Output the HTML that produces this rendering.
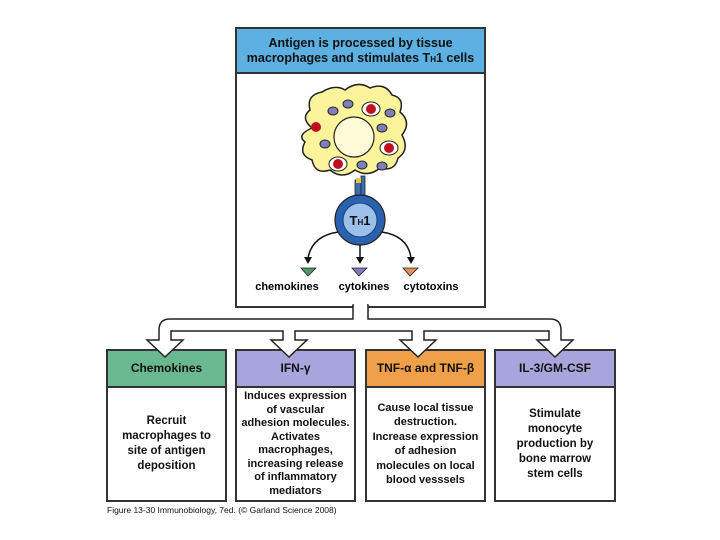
<!DOCTYPE html>
<html><head><style>
body{margin:0;width:720px;height:540px;background:#fff;position:relative;overflow:hidden;font-family:"Liberation Sans",sans-serif;font-weight:bold;color:#111}
.box{position:absolute;border:2px solid #333;background:#fff;box-sizing:border-box}
.hd{border-bottom:2px solid #333;text-align:center;font-size:12px;box-sizing:border-box}
.bd{text-align:center;font-size:11.5px;line-height:14px;display:flex;align-items:center;justify-content:center;box-sizing:border-box}
</style></head><body>
<div class="box" style="left:235px;top:27px;width:251px;height:281px">
 <div class="hd" style="background:#5db0e2;height:45px;padding-top:7px;font-size:12.5px;line-height:15px">Antigen is processed by tissue<br>macrophages and stimulates T<span style="font-size:8px">H</span>1 cells</div>
</div>
<svg style="position:absolute;left:0;top:0" width="720" height="540">
 <path d="M322,92 Q335,84 345,90 Q358,80 370,88 Q385,82 392,95 Q405,98 400,112 Q412,122 402,135 Q410,150 398,158 Q395,172 380,168 Q368,178 355,170 Q342,180 330,170 Q315,175 312,160 Q298,155 305,142 Q296,135 312,128 Q300,118 310,110 Q306,95 322,92Z" fill="#fbf49a" stroke="#222" stroke-width="1.5"/>
 <circle cx="354" cy="137" r="20" fill="#fffbd8" stroke="#222" stroke-width="1.2"/>
 <g fill="#7f7fb8" stroke="#222" stroke-width="1">
  <ellipse cx="333" cy="111" rx="5" ry="4"/><ellipse cx="348" cy="104" rx="5" ry="4"/><ellipse cx="325" cy="144" rx="5" ry="4"/>
  <ellipse cx="382" cy="128" rx="5" ry="4"/><ellipse cx="390" cy="113" rx="5" ry="4"/><ellipse cx="362" cy="165" rx="5" ry="4"/><ellipse cx="382" cy="166" rx="5" ry="4"/>
 </g>
 <g fill="#fff" stroke="#222" stroke-width="1"><ellipse cx="371" cy="109" rx="9" ry="7"/><ellipse cx="389" cy="148" rx="9" ry="7"/><ellipse cx="338" cy="164" rx="9" ry="7"/></g>
 <g fill="#c01020"><circle cx="371" cy="109" r="5"/><circle cx="389" cy="148" r="5"/><circle cx="338" cy="164" r="5"/><circle cx="316" cy="127" r="5"/></g>
 <rect x="355" y="180" width="6" height="16" fill="#3a6fb0" stroke="#222" stroke-width="0.8"/>
 <rect x="361" y="176" width="4" height="20" fill="#3a6fb0" stroke="#222" stroke-width="0.8"/>
 <rect x="356" y="178" width="5" height="5" fill="#f0c040"/>
 <circle cx="360" cy="220" r="25" fill="#2a62b0" stroke="#222" stroke-width="1.2"/>
 <circle cx="360" cy="220" r="17" fill="#9cc0ea" stroke="#183e80" stroke-width="1"/>
 <text x="360" y="225" text-anchor="middle" font-size="13" font-weight="bold" fill="#111">T<tspan font-size="8">H</tspan>1</text>
 <g fill="none" stroke="#111" stroke-width="1.5">
  <path d="M338,232 Q312,236 308,258"/><path d="M360,245 L360,258"/><path d="M382,232 Q408,236 411,258"/>
 </g>
 <g fill="#111"><path d="M304,257 L312,257 L308,264Z"/><path d="M356,257 L364,257 L360,264Z"/><path d="M407,257 L415,257 L411,264Z"/></g>
 <path d="M301,268 L316,268 L308,276Z" fill="#4e9a66" stroke="#222" stroke-width="0.8"/>
 <path d="M352,268 L367,268 L359,276Z" fill="#8279c0" stroke="#222" stroke-width="0.8"/>
 <path d="M403,268 L418,268 L410,276Z" fill="#e09058" stroke="#222" stroke-width="0.8"/>
 <text x="287" y="290" text-anchor="middle" font-size="11" font-weight="bold">chemokines</text>
 <text x="364" y="290" text-anchor="middle" font-size="11" font-weight="bold">cytokines</text>
 <text x="431" y="290" text-anchor="middle" font-size="11" font-weight="bold">cytotoxins</text>
</svg>
<div class="box" style="left:106px;top:349px;width:121px;height:153px"><div class="hd" style="background:#6ab890;height:37px;line-height:35px">Chemokines</div><div class="bd" style="height:112px;line-height:15px">Recruit<br>macrophages to<br>site of antigen<br>deposition</div></div>
<div class="box" style="left:235px;top:349px;width:121px;height:153px"><div class="hd" style="background:#a8a4dc;height:37px;line-height:35px">IFN-γ</div><div class="bd" style="height:112px;font-size:11px;line-height:13.5px">Induces expression<br>of vascular<br>adhesion molecules.<br>Activates<br>macrophages,<br>increasing release<br>of inflammatory<br>mediators</div></div>
<div class="box" style="left:365px;top:349px;width:121px;height:153px"><div class="hd" style="background:#f0a048;height:37px;line-height:35px">TNF-α and TNF-β</div><div class="bd" style="height:112px;font-size:11px;line-height:14.5px">Cause local tissue<br>destruction.<br>Increase expression<br>of adhesion<br>molecules on local<br>blood vesssels</div></div>
<div class="box" style="left:494px;top:349px;width:122px;height:153px"><div class="hd" style="background:#a8a4dc;height:37px;line-height:35px">IL-3/GM-CSF</div><div class="bd" style="height:112px;line-height:15px">Stimulate<br>monocyte<br>production by<br>bone marrow<br>stem cells</div></div>
<svg style="position:absolute;left:0;top:0" width="720" height="540">
 <path d="M353,305 L353,319 L170,319 Q159,319 159,330 L159,340 L147,340 L165,357 L183,340 L171,340 L171,331 L283,331 L283,340 L271,340 L289,357 L307,340 L295,340 L295,331 L412,331 L412,340 L400,340 L418,357 L436,340 L424,340 L424,331 L549,331 L549,340 L537,340 L555,357 L573,340 L561,340 L561,330 Q561,319 550,319 L368,319 L368,305Z" fill="#fff" stroke="#222" stroke-width="1.5"/>
 <rect x="354" y="303" width="13" height="4" fill="#fff"/>
</svg>
<div style="position:absolute;left:107px;top:505px;font-size:8.5px;font-weight:normal">Figure 13-30 Immunobiology, 7ed. (© Garland Science 2008)</div>
</body></html>
